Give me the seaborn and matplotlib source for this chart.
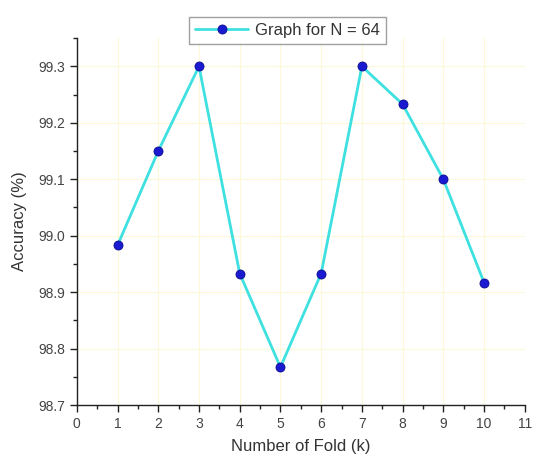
import matplotlib
matplotlib.use("Agg")
import matplotlib.pyplot as plt
import seaborn as sns
import pandas as pd
from matplotlib.ticker import MultipleLocator

folds = [1, 2, 3, 4, 5, 6, 7, 8, 9, 10]
accuracy = [98.983, 99.15, 99.30, 98.933, 98.767, 98.933, 99.30, 99.233, 99.10, 98.917]
series_label = "Graph for N = 64"

df = pd.DataFrame({"fold": folds, "acc": accuracy, "series": series_label})

sns.set_theme(style="white")
plt.rcParams['font.family'] = ['Liberation Sans', 'DejaVu Sans']

fig = plt.figure(figsize=(5.41, 4.65), dpi=100)
ax = fig.add_axes([0.142, 0.129, 0.828, 0.789])

ax.grid(True, which="major", color="#fdf8d8", linewidth=0.8)
ax.set_axisbelow(True)

sns.lineplot(data=df, x="fold", y="acc", hue="series", palette=["#3ee0e0"],
             marker="o", markersize=6.5, markerfacecolor="#1a1ad0",
             markeredgecolor="#0a0a90", markeredgewidth=0.6,
             linewidth=2, ax=ax)

ax.set_xlim(0, 11)
ax.set_ylim(98.7, 99.35)
ax.xaxis.set_major_locator(MultipleLocator(1))
ax.xaxis.set_minor_locator(MultipleLocator(0.5))
ax.yaxis.set_major_locator(MultipleLocator(0.1))
ax.yaxis.set_minor_locator(MultipleLocator(0.05))
ax.set_yticks([98.7, 98.8, 98.9, 99.0, 99.1, 99.2, 99.3])
ax.set_yticklabels(["98.7", "98.8", "98.9", "99.0", "99.1", "99.2", "99.3"])

for s in ["top", "right"]:
    ax.spines[s].set_visible(False)
for s in ["left", "bottom"]:
    ax.spines[s].set_color("#222222")
    ax.spines[s].set_linewidth(1.0)

ax.tick_params(which="major", direction="out", length=5, width=1, color="#222222",
               labelsize=10, labelcolor="#444444", left=True, bottom=True)
ax.tick_params(which="minor", direction="out", length=3, width=1, color="#222222",
               left=True, bottom=True)

ax.set_xlabel("Number of Fold (k)", fontsize=12, color="#333333", labelpad=6)
ax.set_ylabel("Accuracy (%)", fontsize=12, color="#333333", labelpad=8)

leg = ax.legend(loc="lower center", bbox_to_anchor=(0.47, 0.985), frameon=True,
                fancybox=False, edgecolor="#888888", fontsize=12,
                handlelength=3.2, borderpad=0.35, handletextpad=0.4,
                borderaxespad=0)
leg.get_frame().set_linewidth(1.0)
for t in leg.get_texts():
    t.set_color("#333333")

fig.savefig("out.png", dpi=100)
